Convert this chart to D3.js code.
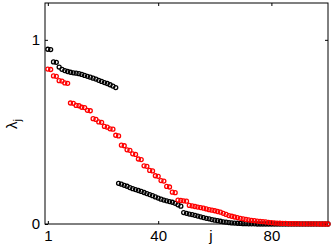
<!DOCTYPE html>
<html>
<head>
<meta charset="utf-8">
<script src="https://cdn.jsdelivr.net/npm/d3@7"></script>
<style>
  body { margin: 0; background: #fff; }
  text { font-family: "Liberation Sans", Arial, sans-serif; }
</style>
</head>
<body>
<div id="chart"></div>
<script>
// values, j = 1..100
const blackVals = [
  .949, .947, .880, .878, .852, .840, .833, .828, .824, .821,
  .819, .816, .812, .807, .802, .797, .792, .787, .780, .774,
  .768, .763, .756, .749, .741, .221, .216, .210, .205, .198,
  .192, .187, .182, .177, .171, .165, .160, .154, .147, .141,
  .135, .130, .126, .122, .118, .112, .104, .097, .062, .058,
  .054, .051, .047, .043, .039, .035, .031, .028, .024, .021,
  .018, .015, .012, .010, .008, .006, .005, .004, .003, .002,
  .002, .001, .001, .001, 0, 0, 0, 0, 0, 0,
  0, 0, 0, 0, 0, 0, 0, 0, 0, 0,
  0, 0, 0, 0, 0, 0, 0, 0, 0, 0
];
const redVals = [
  .841, .839, .804, .802, .778, .776, .766, .764, .657, .655,
  .644, .642, .634, .632, .617, .615, .572, .568, .554, .552,
  .530, .526, .517, .515, .482, .478, .428, .425, .403, .400,
  .381, .378, .353, .350, .316, .313, .291, .288, .262, .259,
  .236, .233, .204, .201, .173, .170, .130, .128, .126, .124,
  .101, .098, .095, .092, .089, .086, .082, .078, .075, .072,
  .068, .064, .058, .052, .046, .042, .038, .035, .031, .028,
  .025, .022, .020, .018, .016, .014, .013, .011, .009, .008,
  .006, .005, .004, .003, .003, .002, .002, .002, .002, .001,
  .001, .001, .001, .001, .001, .001, 0, 0, 0, 0
];
const xTicks = [1, 40, 80];
const yTicks = [0, 1];

const width = 332, height = 247;
const margin = { top: 3, right: 4, bottom: 23, left: 45 };

const svg = d3.select("#chart").append("svg")
  .attr("width", width)
  .attr("height", height);

const x = d3.scaleLinear().domain([0, 100]).range([margin.left, width - margin.right]);
const y = d3.scaleLinear().domain([0, 1.2]).range([height - margin.bottom, margin.top]);

// box
svg.append("rect")
  .attr("x", margin.left).attr("y", margin.top)
  .attr("width", width - margin.right - margin.left)
  .attr("height", height - margin.bottom - margin.top)
  .attr("fill", "none").attr("stroke", "#000").attr("stroke-width", 1);

// inward ticks, all four sides
const tk = 3;
const fmt = d3.format("d");
svg.append("g")
  .attr("transform", `translate(0,${height - margin.bottom})`)
  .call(d3.axisBottom(x).tickValues(xTicks).tickFormat(fmt).tickSizeInner(-tk).tickSizeOuter(0).tickPadding(6))
  .call(g => g.select(".domain").remove())
  .selectAll("text").attr("font-size", "15px").attr("fill", "#000");
svg.append("g")
  .attr("transform", `translate(0,${margin.top})`)
  .call(d3.axisTop(x).tickValues(xTicks).tickSizeInner(-tk).tickSizeOuter(0).tickFormat(""))
  .call(g => g.select(".domain").remove());
svg.append("g")
  .attr("transform", `translate(${margin.left},0)`)
  .call(d3.axisLeft(y).tickValues(yTicks).tickFormat(fmt).tickSizeInner(-tk).tickSizeOuter(0).tickPadding(5))
  .call(g => g.select(".domain").remove())
  .selectAll("text").attr("font-size", "15px").attr("fill", "#000");
svg.append("g")
  .attr("transform", `translate(${width - margin.right},0)`)
  .call(d3.axisRight(y).tickValues(yTicks).tickSizeInner(-tk).tickSizeOuter(0).tickFormat(""))
  .call(g => g.select(".domain").remove());

// axis labels
svg.append("text")
  .attr("x", 211).attr("y", 241)
  .attr("text-anchor", "middle")
  .attr("font-size", "15px")
  .text("j");

const yl = svg.append("text")
  .attr("transform", "translate(17,124) rotate(-90)")
  .attr("text-anchor", "middle")
  .attr("font-size", "15px");
yl.append("tspan").text("λ");
yl.append("tspan").attr("font-size", "11px").attr("dy", 4).text("j");

// markers
function drawSeries(vals, color) {
  svg.append("g")
    .selectAll("circle")
    .data(vals)
    .enter().append("circle")
    .attr("cx", (d, i) => x(i + 1))
    .attr("cy", d => y(d))
    .attr("r", 2)
    .attr("fill", "none")
    .attr("stroke", color)
    .attr("stroke-width", 1.3);
}
drawSeries(blackVals, "#000");
drawSeries(redVals, "#ff0000");
</script>
</body>
</html>
